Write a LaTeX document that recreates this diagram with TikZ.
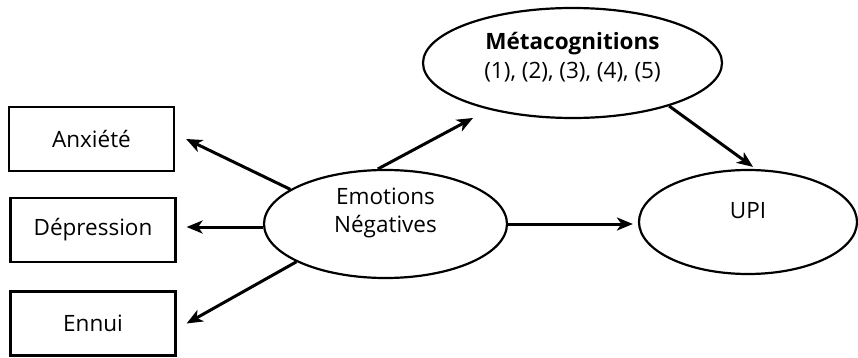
\documentclass[tikz,border=0pt]{standalone}
\usepackage{fontspec}
\setmainfont{Open Sans}
\usetikzlibrary{shapes.geometric,arrows.meta}
\tikzset{
  varbox/.style={draw, line width=2.2pt, minimum width=165pt, minimum height=64pt, inner sep=0pt},
  varell/.style={draw, ellipse, line width=2.2pt, inner sep=0pt, align=center},
  effect/.style={line width=3pt, -{Stealth[length=16pt,width=13pt,inset=4.5pt]}}
}

\begin{document}
\begin{tikzpicture}[x=1pt, y=-1pt, font=\fontsize{22.5}{28.5}\selectfont]
        \useasboundingbox (0,0) rectangle (858,358);
        % outcomes (left)
        \node[varbox] (anx) at (91.5,139) {Anxiété};
        \node[varbox] (dep) at (93,230) {Dépression};
        \node[varbox] (enn) at (93,323.5) {Ennui};
        % predictor
        \node[varell, minimum width=243pt, minimum height=108pt, text depth=28pt] (emo) at (385.5,224) {Emotions\\Négatives};
        % mediator
        \node[varell, minimum width=299pt, minimum height=110pt, text depth=15pt] (meta) at (572.5,63) {\textbf{Métacognitions}\\(1), (2), (3), (4), (5)};
        % outcome
        \node[varell, minimum width=218pt, minimum height=104pt, text depth=24pt] (upi) at (748,222) {UPI};

        % effects
        \draw[effect] (emo.160) -- ([xshift=11pt]anx.east);
        \draw[effect] ([yshift=-3pt]emo.west) -- ([xshift=10pt,yshift=-3pt]emo.west -| dep.east);
        \draw[effect] (emo.203) -- ([xshift=10pt]enn.east);
        \draw[effect] (emo.98) -- ([xshift=-99.5pt,yshift=-55pt]meta.center);
        \draw[effect] (meta.336) -- ([xshift=5pt,yshift=2pt]upi.north);
        \draw[effect, shorten >=5pt] (emo.east) -- (emo.east -| upi.west);
\end{tikzpicture}
\end{document}
